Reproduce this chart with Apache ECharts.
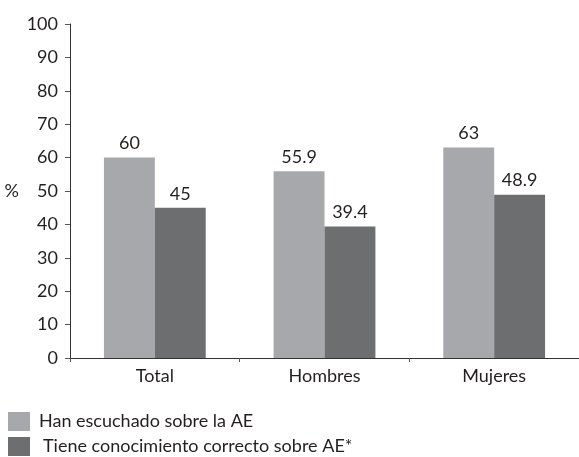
<!DOCTYPE html>
<html>
<head>
<meta charset="utf-8">
<script src="https://cdn.jsdelivr.net/npm/echarts@6/dist/echarts.min.js"></script>
<style>html,body{margin:0;padding:0;background:#fff;}#c{width:579px;height:457px;}</style>
</head>
<body>
<div id="c"></div>
<script>
var categories = ['Total', 'Hombres', 'Mujeres'];
var seriesNames = ['Han escuchado sobre la AE', 'Tiene conocimiento correcto sobre AE*'];
var escucharon = [60, 55.9, 63];
var conocimiento = [45, 39.4, 48.9];
var yTicks = [0, 10, 20, 30, 40, 50, 60, 70, 80, 90, 100];

var FONT = 'Lato';
var TXT = '#231f20';
var legendBase = {
  orient: 'vertical', left: 8, padding: 0,
  itemWidth: 22, itemHeight: 19, itemGap: 8,
  icon: 'rect', selectedMode: false
};
var chart = echarts.init(document.getElementById('c'));
chart.setOption({
  animation: false,
  textStyle: {fontFamily: FONT},
  grid: {left: 70, top: 24, bottom: 99, right: -2, containLabel: false},
  legend: [
    Object.assign({}, legendBase, {top: 412, data: [seriesNames[0]],
      textStyle: {fontFamily: FONT, fontSize: 18, color: TXT, padding: [0, 0, 0, 4]}}),
    Object.assign({}, legendBase, {top: 437, data: [seriesNames[1]],
      textStyle: {fontFamily: FONT, fontSize: 18, color: TXT, padding: [0, 0, 0, 8]}})
  ],
  xAxis: {
    type: 'category', data: categories,
    axisLine: {lineStyle: {color: '#333', width: 1}},
    axisTick: {show: true, length: 4, lineStyle: {color: '#555'}},
    axisLabel: {fontFamily: FONT, fontSize: 18, color: TXT, margin: 9}
  },
  yAxis: {
    type: 'value', min: yTicks[0], max: yTicks[yTicks.length - 1], interval: 10,
    name: '%', nameLocation: 'middle', nameRotate: 0, nameGap: 51,
    nameTextStyle: {fontFamily: FONT, fontSize: 18, color: TXT},
    axisLine: {show: true, lineStyle: {color: '#333', width: 1}},
    axisTick: {show: true, length: 5, lineStyle: {color: '#555'}},
    splitLine: {show: false},
    axisLabel: {fontFamily: FONT, fontSize: 18, color: TXT, margin: 12}
  },
  series: [
    {
      name: seriesNames[0], type: 'bar', data: escucharon,
      barWidth: '30%', barGap: '0%',
      itemStyle: {color: '#a7a8ab'},
      label: {show: true, position: 'top', distance: 5, fontFamily: FONT, fontSize: 18, color: TXT}
    },
    {
      name: seriesNames[1], type: 'bar', data: conocimiento,
      barWidth: '30%', barGap: '0%',
      itemStyle: {color: '#6d6e70'},
      label: {show: true, position: 'top', distance: 5, fontFamily: FONT, fontSize: 18, color: TXT}
    }
  ]
});
</script>
</body>
</html>
